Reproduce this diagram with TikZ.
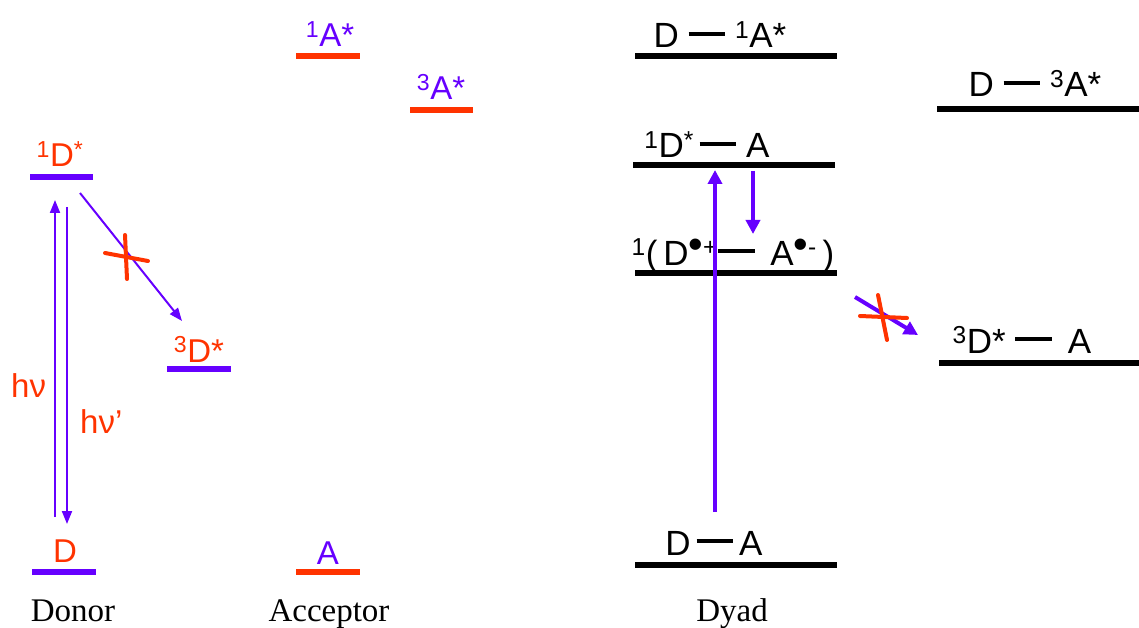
\documentclass[tikz,border=0pt]{standalone}
\usepackage{fontspec}
\usepackage{graphicx}
\setmainfont{Liberation Sans}
\newfontfamily\capfont{Liberation Serif}
\usetikzlibrary{arrows.meta}
\definecolor{pur}{RGB}{102,0,255}
\definecolor{org}{RGB}{255,51,0}
\newcommand{\bnd}{\rule[0.33em]{1.05em}{0.14em}}
\newcommand{\bigdot}{\raisebox{-0.12em}{\scalebox{1.7}{\textbullet}}}
\tikzset{
  lvlP/.style={pur,line width=6pt},
  lvlO/.style={org,line width=6pt},
  lvlK/.style={black,line width=6.5pt},
  lab/.style={inner sep=0pt,anchor=base,font=\fontsize{33}{36}\selectfont},
  dlab/.style={inner sep=0pt,anchor=base,font=\fontsize{35}{38}\selectfont},
  captxt/.style={inner sep=0pt,anchor=base,font=\capfont\fontsize{33}{36}\selectfont},
  arrT/.style={pur,line width=2pt,-{Triangle[width=10pt,length=13pt]}},
  arrK/.style={pur,line width=4.5pt,-{Triangle[width=14pt,length=14pt]}},
  xstroke/.style={org,line width=4pt,line cap=round}
}
\begin{document}
\begin{tikzpicture}[x=1pt,y=-1pt]
\useasboundingbox (0,0) rectangle (1139,628);
% ---------- Donor ----------
\draw[lvlP] (30,177) -- (93,177);
\draw[lvlP] (167,369) -- (231,369);
\draw[lvlP] (32,572) -- (96,572);
\node[lab,org] (d1) at (60,167) {\textsuperscript{1}D\textsuperscript{*}};
\node[lab,org] (d3) at (199,362) {\textsuperscript{3}D*};
\node[lab,org] (d0) at (65,562) {D};
\node[lab,org,anchor=base west] (hv) at (11,397) {hν};
\node[lab,org,anchor=base west] (hvp) at (80,433) {hν’};
\coordinate (hvb) at (55,517);
\coordinate (hvt) at (55,200);
\coordinate (hpt) at (67,207);
\coordinate (hpb) at (67,524);
\coordinate (isa) at (80,193);
\coordinate (isb) at (182,321);
\draw[arrT] (hvb) -- (hvt);
\draw[arrT] (hpt) -- (hpb);
\draw[arrT] (isa) -- (isb);
\coordinate (x1a) at (105,253);
\coordinate (x1b) at (148,261);
\coordinate (x2a) at (125,235);
\coordinate (x2b) at (127,279);
\draw[xstroke] (x1a) -- (x1b);
\draw[xstroke] (x2a) -- (x2b);
\node[captxt] (donor) at (73,621) {Donor};
% ---------- Acceptor ----------
\draw[lvlO] (296,56) -- (360,56);
\draw[lvlO] (410,110) -- (473,110);
\draw[lvlO] (296,572) -- (360,572);
\node[lab,pur] (a1) at (330,47) {\textsuperscript{1}A*};
\node[lab,pur] (a3) at (441,100) {\textsuperscript{3}A*};
\node[lab,pur] (a0) at (328,564) {A};
\node[captxt] (acc) at (329,621) {Acceptor};
% ---------- Dyad ----------
\draw[lvlK] (635,56) -- (837,56);
\draw[lvlK] (633,165) -- (835,165);
\draw[lvlK] (635,273) -- (837,273);
\draw[lvlK] (635,565) -- (837,565);
\draw[lvlK] (937,109) -- (1139,109);
\draw[lvlK] (939,363) -- (1139,363);
\node[dlab] (e1) at (720,48) {D \bnd\ \textsuperscript{1}A*};
\node[dlab] (e2) at (707,158) {\textsuperscript{1}D\textsuperscript{*}\,\bnd\ A};
\node[dlab] (e3) at (733,265) {\textsuperscript{1}(\,D\textsuperscript{\bigdot+}\bnd\ \,A\textsuperscript{\bigdot-}\,)};
\node[dlab] (e0) at (714,555) {D\,\bnd\,A};
\node[dlab] (e4) at (1035,97) {D \bnd\ \textsuperscript{3}A*};
\node[dlab] (e5) at (1022,353) {\textsuperscript{3}D* \bnd\hspace{0.45em}A};
\node[captxt] (dyad) at (732,621) {Dyad};
\coordinate (ub) at (715,512);
\coordinate (ut) at (715,170);
\coordinate (dt) at (753,171);
\coordinate (db) at (753,234);
\coordinate (ga) at (855,297);
\coordinate (gb) at (918,335);
\draw[arrK] (ub) -- (ut);
\draw[arrK] (dt) -- (db);
\draw[arrK,line width=4pt] (ga) -- (gb);
\coordinate (y1a) at (860,316);
\coordinate (y1b) at (907,318);
\coordinate (y2a) at (878,295);
\coordinate (y2b) at (887,340);
\draw[xstroke] (y1a) -- (y1b);
\draw[xstroke] (y2a) -- (y2b);
\end{tikzpicture}
\end{document}
